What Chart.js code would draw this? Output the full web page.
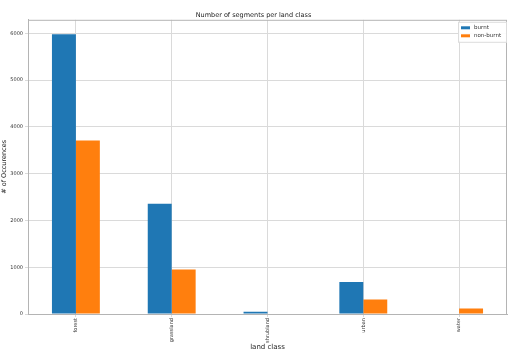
<!DOCTYPE html>
<html>
<head>
<meta charset="utf-8">
<script src="https://cdn.jsdelivr.net/npm/chart.js@4/dist/chart.umd.min.js"></script>
<style>
  html, body { margin: 0; padding: 0; background: #fff; }
  #wrap { width: 511px; height: 352px; }
</style>
</head>
<body>
<div id="wrap"><canvas id="barChart" width="511" height="352"></canvas></div>
<script>
const landClasses = ['forest', 'grassland', 'shrubland', 'urban', 'water'];
const burnt = [5980, 2355, 50, 685, 0];
const nonBurnt = [3710, 950, 12, 308, 115];
const yTicks = [0, 1000, 2000, 3000, 4000, 5000, 6000];

const FONT = 'DejaVu Sans';

// legend drawn inside the plot, top right, like matplotlib
const boxLegend = {
  id: 'boxLegend',
  afterDraw(chart) {
    const ctx = chart.ctx;
    const area = chart.chartArea;
    const ds = chart.data.datasets;
    const w = 48, rowH = 8;
    const h = ds.length * rowH + 4;
    const x = area.right - w - 1, y = area.top + 2;
    ctx.save();
    ctx.fillStyle = 'rgba(255,255,255,0.9)';
    ctx.strokeStyle = '#dcdcdc';
    ctx.lineWidth = 1;
    ctx.fillRect(x, y, w, h);
    ctx.strokeRect(x + 0.5, y + 0.5, w, h);
    ctx.font = '5.5px "' + FONT + '"';
    ctx.textBaseline = 'middle';
    ds.forEach((d, i) => {
      const cy = y + 6 + i * rowH;
      ctx.fillStyle = d.backgroundColor;
      ctx.fillRect(x + 3, cy - 1.5, 9, 3);
      ctx.fillStyle = '#333';
      ctx.fillText(d.label, x + 16, cy);
    });
    ctx.restore();
  }
};

// gray frame round the whole plot area
const frame = {
  id: 'frame',
  afterDatasetsDraw(chart) {
    const a = chart.chartArea;
    const ctx = chart.ctx;
    ctx.save();
    ctx.strokeStyle = '#b4b4b4';
    ctx.lineWidth = 1;
    ctx.strokeRect(a.left + 0.5, a.top + 0.5, a.right - a.left - 1, a.bottom - a.top);
    ctx.restore();
  }
};

new Chart(document.getElementById('barChart').getContext('2d'), {
  type: 'bar',
  data: {
    labels: landClasses,
    datasets: [
      { label: 'burnt', data: burnt, backgroundColor: '#1f77b4' },
      { label: 'non-burnt', data: nonBurnt, backgroundColor: '#ff7f0e' }
    ]
  },
  options: {
    responsive: false,
    animation: false,
    layout: { padding: { left: 0, right: 4, top: 0, bottom: 0 } },
    datasets: { bar: { categoryPercentage: 0.5, barPercentage: 1.0 } },
    plugins: {
      legend: { display: false },
      tooltip: { enabled: false },
      title: {
        display: true,
        text: 'Number of segments per land class',
        color: '#222',
        font: { family: FONT, size: 6.5, weight: 'normal' },
        padding: { top: 11, bottom: 1 }
      }
    },
    scales: {
      x: {
        offset: true,
        grid: { offset: false, color: '#dadada', tickLength: 3, drawTicks: true },
        border: { color: '#b4b4b4' },
        ticks: {
          color: '#333',
          font: { family: FONT, size: 5 },
          maxRotation: 90,
          minRotation: 90,
          padding: 1
        },
        title: {
          display: true,
          text: 'land class',
          color: '#222',
          font: { family: FONT, size: 7 },
          padding: { top: 0, bottom: 1 }
        },
        afterFit(scale) { scale.height = 38; }
      },
      y: {
        min: 0,
        max: 6290,
        afterBuildTicks(scale) { scale.ticks = yTicks.map(v => ({ value: v })); },
        grid: { color: '#dadada', tickLength: 3 },
        border: { color: '#b4b4b4' },
        ticks: {
          color: '#333',
          font: { family: FONT, size: 5 },
          padding: 2,
          callback: v => String(v)
        },
        title: {
          display: true,
          text: '# of Occurences',
          color: '#222',
          font: { family: FONT, size: 6.5 },
          padding: { top: 0, bottom: 0 }
        },
        afterFit(scale) { scale.width = 28; }
      }
    }
  },
  plugins: [frame, boxLegend]
});
</script>
</body>
</html>
